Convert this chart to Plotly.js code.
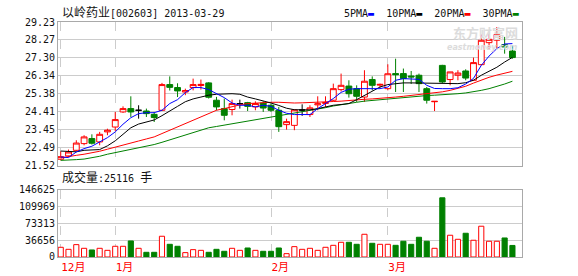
<!DOCTYPE html>
<html><head><meta charset="utf-8">
<script src="https://cdn.plot.ly/plotly-3.0.1.min.js"></script>
<style>html,body{margin:0;padding:0;background:#fff}#chart{width:578px;height:276px}</style>
</head><body><div id="chart"></div>
<script>
// ---- data ----
const openP  = [21.86,22.04,22.34,22.70,22.97,22.79,23.33,23.59,24.40,24.58,24.49,24.45,24.27,24.49,25.87,25.71,25.47,25.71,25.82,25.96,25.03,24.58,24.53,24.85,24.90,24.67,24.88,24.76,24.49,23.72,23.68,24.50,24.26,24.78,24.86,25.03,25.60,25.79,25.65,25.20,26.14,25.84,25.65,26.46,26.46,26.33,26.37,25.65,24.95,26.90,26.14,26.37,26.60,26.10,26.94,28.12,28.25,28.01,27.67];
const highP  = [22.29,22.38,22.88,23.15,23.20,23.33,23.50,24.40,24.70,25.24,24.76,24.58,24.40,25.96,26.31,25.94,25.65,26.19,26.14,26.00,25.21,25.12,25.06,25.06,24.94,24.97,24.97,24.85,24.67,24.04,24.53,24.81,24.76,25.24,25.24,25.92,26.46,26.10,25.83,26.64,26.31,25.92,26.96,27.26,26.73,26.60,26.46,25.74,24.98,26.93,26.55,26.64,26.69,27.32,28.55,28.61,28.96,28.43,27.98];
const lowP   = [21.80,21.98,22.30,22.61,22.65,22.61,23.15,23.38,24.35,24.13,24.04,24.13,23.86,24.45,25.55,25.20,25.30,25.56,25.60,25.12,24.49,23.95,24.22,24.58,24.45,24.49,24.40,24.40,23.33,23.45,23.42,24.19,24.13,24.49,24.67,24.98,25.50,25.17,24.94,24.94,25.56,25.70,25.56,25.47,25.47,25.90,25.47,24.85,24.45,25.95,25.83,26.10,26.10,26.10,26.90,27.80,27.80,27.53,27.26];
const closeP = [22.00,22.25,22.73,23.06,22.72,23.20,23.42,23.99,24.58,24.40,24.49,24.31,24.10,25.87,25.72,25.53,25.55,25.87,25.88,25.19,24.67,24.22,24.85,24.85,24.70,24.85,24.61,24.49,23.61,23.88,24.51,24.50,24.62,24.84,24.90,25.65,25.83,25.38,25.24,26.05,25.83,25.88,26.45,26.40,26.19,26.28,25.92,25.03,24.97,26.01,26.55,26.49,26.22,27.05,28.25,28.30,28.55,27.89,27.32];
const volume = [21100,16700,26900,18900,15300,18900,14500,23300,23300,34900,18900,10200,10200,45100,27600,23300,9500,16000,14500,10200,16700,12400,18900,14500,19600,14500,12400,12400,19600,7300,22500,16700,18900,14500,21100,25400,32000,32000,27600,49400,29800,27600,27600,25400,34200,27600,42900,34200,18900,128700,47300,38500,51600,36400,66900,34200,34200,41400,25116];
const ma5  = [21.98,21.95,22.25,22.43,22.56,22.79,23.02,23.33,23.74,24.09,24.31,24.36,24.36,24.49,24.85,25.06,25.44,25.71,25.71,25.60,25.38,25.17,24.88,24.76,24.76,24.67,24.76,24.70,24.49,24.33,24.26,24.24,24.26,24.58,24.85,25.12,25.45,25.62,25.65,25.65,25.65,25.65,25.74,26.10,26.19,26.19,26.15,25.83,25.66,25.65,25.65,25.70,25.90,26.20,26.90,27.40,27.80,28.05,28.07];
const ma10 = [22.30,22.30,22.26,22.34,22.36,22.38,22.58,22.85,23.20,23.55,23.75,23.88,23.97,24.20,24.47,24.70,24.95,25.10,25.20,25.30,25.35,25.37,25.38,25.35,25.20,25.10,25.00,24.88,24.75,24.60,24.52,24.50,24.51,24.58,24.68,24.76,24.80,24.85,25.06,25.30,25.53,25.74,25.87,25.92,25.96,25.96,25.96,25.96,25.94,25.92,25.92,25.92,25.97,26.10,26.37,26.58,26.80,27.08,27.33];
const ma20 = [21.93,21.98,22.07,22.13,22.20,22.29,22.40,22.52,22.63,22.74,22.84,22.95,23.06,23.24,23.42,23.60,23.77,23.99,24.17,24.35,24.49,24.58,24.70,24.78,24.85,24.88,24.88,24.92,24.92,24.88,24.88,24.89,24.90,24.92,24.94,24.96,24.98,25.00,25.03,25.08,25.10,25.12,25.15,25.20,25.24,25.29,25.32,25.36,25.42,25.48,25.56,25.65,25.78,25.95,26.12,26.26,26.38,26.48,26.58];
const ma30 = [21.80,21.80,21.84,21.87,21.93,22.02,22.13,22.22,22.30,22.39,22.45,22.55,22.65,22.77,22.90,23.03,23.17,23.30,23.42,23.55,23.62,23.69,23.76,23.83,23.90,23.97,24.04,24.11,24.20,24.27,24.33,24.40,24.47,24.55,24.63,24.72,24.80,24.86,24.92,24.98,25.02,25.06,25.10,25.13,25.16,25.22,25.25,25.28,25.30,25.32,25.35,25.38,25.42,25.48,25.56,25.65,25.76,25.90,26.05];
const monthTickIdx  = [0, 7, 27, 42];
const monthTickText = ['12月', '1月', '2月', '3月'];
const priceTicks = [21.52, 22.49, 23.45, 24.41, 25.38, 26.34, 27.30, 28.27, 29.23];
const volTicks   = [0, 36656, 73313, 109969, 146625];
const titleName = '以岭药业', titleCode = '[002603]', titleDate = '2013-03-29';
const lastVolume = 25116;

// ---- styling ----
const RED = '#ff0000', GREEN = '#008000', BLUE = '#0000ff', BLACK = '#000000';
const GRID = '#cccccc', FRAME = '#a9a9a9';
const MONO = 'DejaVu Sans Mono, Noto Sans CJK SC, monospace';

const idx = closeP.map((_, i) => i);
function pick(cond) {
  const o = {x: [], open: [], high: [], low: [], close: []};
  idx.forEach(i => { if (cond(i)) { o.x.push(i); o.open.push(openP[i]); o.high.push(highP[i]); o.low.push(lowP[i]); o.close.push(closeP[i]); } });
  return o;
}
function candle(sub, color, fill) {
  return Object.assign({
    type: 'candlestick', xaxis: 'x', yaxis: 'y', hoverinfo: 'skip', whiskerwidth: 0,
    increasing: {line: {color: color, width: 1}, fillcolor: fill},
    decreasing: {line: {color: color, width: 1}, fillcolor: fill}
  }, sub);
}
const up = pick(i => closeP[i] > openP[i]);
const dn = pick(i => closeP[i] < openP[i]);
const dj = pick(i => closeP[i] === openP[i]);

function maLine(arr, color) {
  return {type: 'scatter', mode: 'lines', x: idx, y: arr, xaxis: 'x', yaxis: 'y',
          line: {color: color, width: 1}, hoverinfo: 'skip'};
}

const isUp = idx.map(i => closeP[i] >= openP[i]);
const traces = [
  maLine(ma30, GREEN), maLine(ma20, RED), maLine(ma10, BLACK), maLine(ma5, BLUE),
  candle(up, RED, '#ffffff'),
  candle(dn, GREEN, GREEN),
  candle(dj, BLACK, BLACK),
  {type: 'bar', x: idx, y: volume, xaxis: 'x2', yaxis: 'y2', width: 0.66, hoverinfo: 'skip',
   marker: {color: isUp.map(u => u ? '#ffffff' : GREEN), line: {color: isUp.map(u => u ? RED : GREEN), width: 1}}}
];

const xr = [-0.35, 59.23];
const baseX = {
  range: xr, tickvals: monthTickIdx, showgrid: true, griddash: 'dash', gridcolor: GRID, gridwidth: 1,
  showline: true, mirror: true, linecolor: FRAME, linewidth: 1, zeroline: false, ticks: '', fixedrange: true
};
const baseY = {
  showgrid: true, gridcolor: GRID, gridwidth: 1, showline: true, mirror: true, linecolor: FRAME, linewidth: 1,
  zeroline: false, ticks: '', tickfont: {family: MONO, size: 10, color: '#111'}, fixedrange: true
};

const layout = {
  width: 578, height: 276, margin: {l: 58, r: 56, t: 22, b: 19},
  paper_bgcolor: '#ffffff', plot_bgcolor: '#ffffff', showlegend: false,
  boxgap: 0.25, boxgroupgap: 0,
  bargap: 0.3,
  xaxis: Object.assign({}, baseX, {domain: [0, 1], anchor: 'y', showticklabels: false, rangeslider: {visible: false}}),
  yaxis: Object.assign({}, baseY, {domain: [0.389, 1], anchor: 'x', range: [priceTicks[0], priceTicks[priceTicks.length - 1]],
          tickvals: priceTicks, ticktext: priceTicks.map(v => v.toFixed(2))}),
  xaxis2: Object.assign({}, baseX, {domain: [0, 1], anchor: 'y2', ticktext: monthTickText,
          ticklabelposition: 'outside right', tickfont: {family: MONO, size: 11, color: RED}}),
  yaxis2: Object.assign({}, baseY, {domain: [0, 0.287], anchor: 'x2', range: [volTicks[0], volTicks[volTicks.length - 1]],
          tickvals: volTicks, ticktext: volTicks.map(String)}),
  annotations: [
    {xref: 'paper', yref: 'paper', x: 0.004, y: 1.038, xanchor: 'left', yanchor: 'middle', showarrow: false,
     font: {family: MONO, size: 10, color: '#111'},
     text: '<span style="font-size:12px">' + titleName + '</span>' + titleCode + ' ' + titleDate},
    {xref: 'paper', yref: 'paper', x: 0.998, y: 1.038, xanchor: 'right', yanchor: 'middle', showarrow: false,
     font: {family: MONO, size: 10, color: '#111'},
     text: '5PMA<span style="color:' + BLUE + '">▬</span>  10PMA<span style="color:' + BLACK + '">▬</span>  20PMA<span style="color:' + RED + '">▬</span>  30PMA<span style="color:' + GREEN + '">▬</span>'},
    {xref: 'paper', yref: 'paper', x: 0.004, y: 0.34, xanchor: 'left', yanchor: 'middle', showarrow: false,
     font: {family: MONO, size: 10, color: '#111'},
     text: '<span style="font-size:12px">成交量</span>:' + lastVolume + ' <span style="font-size:12px">手</span>'},
    {xref: 'paper', yref: 'paper', x: 0.995, y: 0.955, xanchor: 'right', yanchor: 'middle', showarrow: false,
     font: {family: 'Noto Sans CJK SC, sans-serif', size: 13, color: '#dcdcdc'}, text: '<b>东方财富网</b>'},
    {xref: 'paper', yref: 'paper', x: 0.993, y: 0.893, xanchor: 'right', yanchor: 'middle', showarrow: false,
     font: {family: 'DejaVu Sans, sans-serif', size: 8, color: '#dcdcdc'}, text: '<b><i>eastmoney.com</i></b>'}
  ]
};

Plotly.newPlot('chart', traces, layout, {staticPlot: true, displayModeBar: false});
</script>
</body></html>
